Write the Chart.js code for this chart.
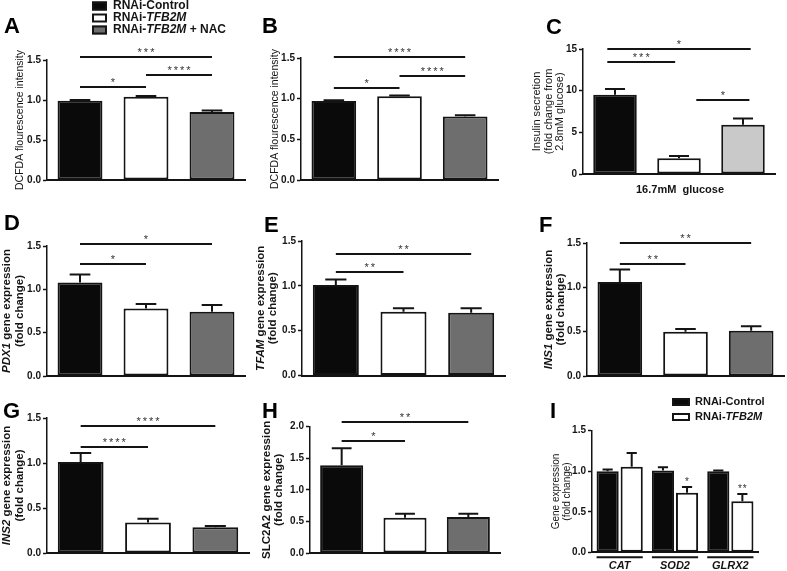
<!DOCTYPE html>
<html><head><meta charset="utf-8">
<script src="https://cdn.jsdelivr.net/npm/chart.js@4.4.0/dist/chart.umd.min.js"></script>
<style>
html,body{margin:0;padding:0;background:#fff;}
#wrap{position:relative;width:787px;height:571px;overflow:hidden;background:#fff;}
canvas{position:absolute;}
</style></head><body><div id="wrap"></div>
<script>
// ---------------- data ----------------
const groups = ['RNAi-Control', 'RNAi-TFB2M', 'RNAi-TFB2M + NAC'];
const groupsI = ['RNAi-Control', 'RNAi-TFB2M'];
const genesI = ['CAT', 'SOD2', 'GLRX2'];

const ticksFold = [0, 0.5, 1.0, 1.5];
const ticksInsulin = [0, 5, 10, 15];
const ticksSLC = [0, 0.5, 1.0, 1.5, 2.0];

// A: DCFDA
const A_mean = [0.99, 1.04, 0.85];
const A_sem  = [0.01, 0.01, 0.02];
const A_sig  = [[0, 2, 1.54, '***'], [1, 2, 1.31, '****'], [0, 1, 1.16, '*']];
// B: DCFDA
const B_mean = [0.97, 1.03, 0.78];
const B_sem  = [0.01, 0.01, 0.015];
const B_sig  = [[0, 2, 1.51, '****'], [1, 2, 1.28, '****'], [0, 1, 1.13, '*']];
// C: insulin secretion
const C_mean = [9.5, 1.9, 5.9];
const C_sem  = [0.7, 0.25, 0.75];
const C_sig  = [[-0.12, 2.12, 15.0, '*'], [-0.12, 0.94, 13.4, '***'], [1.27, 2.1, 8.9, '*']];
// D: PDX1
const D_mean = [1.08, 0.78, 0.74];
const D_sem  = [0.09, 0.05, 0.08];
const D_sig  = [[0, 2, 1.52, '*'], [0, 1, 1.29, '*']];
// E: TFAM
const E_mean = [1.01, 0.71, 0.70];
const E_sem  = [0.06, 0.04, 0.05];
const E_sig  = [[0, 2, 1.36, '**'], [0, 1, 1.15, '**']];
// F: INS1
const F_mean = [1.06, 0.50, 0.51];
const F_sem  = [0.14, 0.03, 0.05];
const F_sig  = [[0, 2, 1.50, '**'], [0, 1, 1.26, '**']];
// G: INS2
const G_mean = [1.01, 0.34, 0.285];
const G_sem  = [0.10, 0.04, 0.015];
const G_sig  = [[0, 2, 1.41, '****'], [0, 1, 1.18, '****']];
// H: SLC2A2
const H_mean = [1.39, 0.56, 0.57];
const H_sem  = [0.27, 0.06, 0.05];
const H_sig  = [[0, 2, 2.08, '**'], [0, 1, 1.77, '*']];
// I: antioxidant genes
const I_ctrl_mean = [1.00, 1.01, 1.00];
const I_ctrl_sem  = [0.02, 0.04, 0.01];
const I_tfb_mean  = [1.055, 0.735, 0.63];
const I_tfb_sem   = [0.17, 0.07, 0.09];
const I_stars     = ['', '*', '**'];

// ---------------- drawing ----------------
const FONT = "'Liberation Sans', Arial, Helvetica, sans-serif";
const INK = '#141414';
const COLORS3 = ['#0a0a0a', '#ffffff', '#6e6e6e'];
const COLORS3C = ['#0a0a0a', '#ffffff', '#c9c9c9'];
const wrap = document.getElementById('wrap');

function richify(s) {
  const parts = s.split(/(TFB2M)/).filter(t => t.length);
  return parts.map(t => [t, t === 'TFB2M']);
}
function font(size, weight, italic) {
  return (italic ? 'italic ' : '') + (weight || 'normal') + ' ' + size + 'px ' + FONT;
}
function drawRich(ctx, segs, x, y, size, weight, align) {
  let total = 0;
  segs.forEach(s => { ctx.font = font(size, weight, s[1]); total += ctx.measureText(s[0]).width; });
  let cx = align === 'left' ? x : x - total / 2;
  ctx.textAlign = 'left';
  segs.forEach(s => { ctx.font = font(size, weight, s[1]); ctx.fillText(s[0], cx, y); cx += ctx.measureText(s[0]).width; });
}

function makePanel(p) {
  const cv = document.createElement('canvas');
  cv.width = p.cell.w; cv.height = p.cell.h;
  cv.style.left = p.cell.x + 'px'; cv.style.top = p.cell.y + 'px';
  cv.style.width = p.cell.w + 'px'; cv.style.height = p.cell.h + 'px';
  wrap.appendChild(cv);
  const YW = 40;
  const pad = {
    left: p.plot.l - p.cell.x - YW,
    top: p.plot.t - p.cell.y,
    right: p.cell.x + p.cell.w - p.plot.r,
    bottom: p.cell.y + p.cell.h - p.plot.b
  };
  const deco = {
    id: 'deco',
    afterDatasetsDraw(chart) {
      const ctx = chart.ctx, ys = chart.scales.y;
      ctx.save(); ctx.strokeStyle = INK; ctx.lineWidth = 2;
      p.datasets.forEach((ds, di) => {
        const meta = chart.getDatasetMeta(di);
        meta.data.forEach((bar, i) => {
          const e = p.err[di][i]; if (!e) return;
          const top = ys.getPixelForValue(ds.data[i] + e);
          const hw = bar.width * 0.23;
          ctx.beginPath();
          ctx.moveTo(bar.x, bar.y); ctx.lineTo(bar.x, top);
          ctx.moveTo(bar.x - hw, top); ctx.lineTo(bar.x + hw, top);
          ctx.stroke();
        });
      });
      ctx.restore();
    },
    afterDraw(chart) {
      const ctx = chart.ctx, xs = chart.scales.x, ys = chart.scales.y;
      ctx.save();
      // significance brackets
      (p.sig || []).forEach(s => {
        const x1 = xs.getPixelForValue(s[0]), x2 = xs.getPixelForValue(s[1]);
        const y = Math.round(ys.getPixelForValue(s[2]));
        ctx.strokeStyle = INK; ctx.lineWidth = 2;
        ctx.beginPath(); ctx.moveTo(x1, y); ctx.lineTo(x2, y); ctx.stroke();
        ctx.fillStyle = '#333'; ctx.font = font(11, 'normal');
        ctx.letterSpacing = '2px';
        ctx.textAlign = 'center'; ctx.textBaseline = 'alphabetic';
        ctx.fillText(s[3], (x1 + x2) / 2 + 1, y - 1.5);
        ctx.letterSpacing = '0px';
      });
      if (p.extraChart) p.extraChart(chart, ctx);
      // page-coordinate decorations
      ctx.translate(-p.cell.x, -p.cell.y);
      ctx.fillStyle = '#000';
      ctx.textBaseline = 'alphabetic'; ctx.textAlign = 'left';
      ctx.font = font(22, 'bold');
      ctx.fillText(p.letter[0], p.letter[1], p.letter[2]);
      // y title
      const yt = p.ytitle;
      const cy = (p.plot.t + p.plot.b) / 2;
      ctx.fillStyle = INK; ctx.textBaseline = 'middle';
      yt.lines.forEach((segs, li) => {
        ctx.save();
        ctx.translate(yt.xs[li], cy);
        ctx.rotate(-Math.PI / 2);
        drawRich(ctx, segs, 0, 0, yt.size, yt.weight, 'center');
        ctx.restore();
      });
      if (p.extraPage) p.extraPage(ctx);
      ctx.restore();
    }
  };
  return new Chart(cv, {
    type: 'bar',
    data: { labels: p.labels, datasets: p.datasets },
    options: {
      responsive: false, animation: false, devicePixelRatio: 1, events: [],
      layout: { padding: pad },
      plugins: { legend: { display: false }, tooltip: { enabled: false }, title: { display: false } },
      scales: {
        x: {
          offset: true,
          grid: { display: false },
          ticks: { display: false },
          border: { display: true, color: INK, width: 2 },
          afterFit(s) { s.height = 0; }
        },
        y: {
          min: 0, max: p.ticks[p.ticks.length - 1],
          afterBuildTicks(s) { s.ticks = p.ticks.map(v => ({ value: v })); },
          grid: { display: true, drawOnChartArea: false, drawTicks: true, tickLength: 4, tickWidth: 1.5, tickColor: INK, color: INK },
          border: { display: true, color: INK, width: 1.5 },
          ticks: { color: INK, padding: 2, font: { family: FONT, size: 10, weight: 'bold' },
                   callback: (v) => Number(v).toFixed(p.dec) },
          afterFit(s) { s.width = YW; }
        }
      }
    },
    plugins: [deco]
  });
}

function ds3(mean, colors) {
  return [{ data: mean, backgroundColor: colors, borderColor: INK, borderWidth: 2, borderSkipped: false,
            categoryPercentage: 1, barPercentage: 0.68 }];
}
const gene2 = (g) => [[[g, true], [' gene expression', false]], [['(fold change)', false]]];

// A
makePanel({
  name: 'A', cell: { x: 0, y: 0, w: 255, h: 192 }, plot: { l: 47, t: 60, r: 245, b: 180 },
  labels: groups, datasets: ds3(A_mean, COLORS3), err: [A_sem], sig: A_sig, ticks: ticksFold, dec: 1,
  letter: ['A', 4, 33],
  ytitle: { lines: [[['DCFDA flourescence intensity', false]]], xs: [20], size: 10.5, weight: 'normal' },
  extraPage(ctx) {
    const rows = [6, 18, 30];
    groups.forEach((g, i) => {
      ctx.fillStyle = COLORS3[i]; ctx.fillRect(92, rows[i] - 4.5, 15, 9);
      ctx.strokeStyle = INK; ctx.lineWidth = 2; ctx.strokeRect(93, rows[i] - 3.5, 13, 7);
      ctx.fillStyle = INK; ctx.textBaseline = 'middle';
      drawRich(ctx, richify(g), 113, rows[i], 12, 'bold', 'left');
    });
  }
});
// B
makePanel({
  name: 'B', cell: { x: 255, y: 0, w: 265, h: 192 }, plot: { l: 301, t: 58, r: 498, b: 180 },
  labels: groups, datasets: ds3(B_mean, COLORS3), err: [B_sem], sig: B_sig, ticks: ticksFold, dec: 1,
  letter: ['B', 262, 33],
  ytitle: { lines: [[['DCFDA flourescence intensity', false]]], xs: [275], size: 10.5, weight: 'normal' }
});
// C
makePanel({
  name: 'C', cell: { x: 520, y: 0, w: 267, h: 200 }, plot: { l: 583, t: 49, r: 775, b: 174 },
  labels: groups, datasets: ds3(C_mean, COLORS3C), err: [C_sem], sig: C_sig, ticks: ticksInsulin, dec: 0,
  letter: ['C', 546, 34],
  ytitle: { lines: [[['Insulin secretion', false]], [['(fold change from', false]], [['2.8mM glucose)', false]]],
            xs: [537, 549, 560], size: 11, weight: 'normal' },
  extraPage(ctx) {
    ctx.fillStyle = INK; ctx.textBaseline = 'middle';
    drawRich(ctx, [['16.7mM  glucose', false]], 680, 190, 11, 'bold', 'center');
  }
});
// D
makePanel({
  name: 'D', cell: { x: 0, y: 195, w: 255, h: 190 }, plot: { l: 47, t: 246, r: 245, b: 376 },
  labels: groups, datasets: ds3(D_mean, COLORS3), err: [D_sem], sig: D_sig, ticks: ticksFold, dec: 1,
  letter: ['D', 4, 230],
  ytitle: { lines: gene2('PDX1'), xs: [7, 20], size: 11.5, weight: 'bold' }
});
// E
makePanel({
  name: 'E', cell: { x: 250, y: 195, w: 270, h: 190 }, plot: { l: 302, t: 241, r: 505, b: 375.5 },
  labels: groups, datasets: ds3(E_mean, COLORS3), err: [E_sem], sig: E_sig, ticks: ticksFold, dec: 1,
  letter: ['E', 264, 232],
  ytitle: { lines: gene2('TFAM'), xs: [261, 273], size: 11.5, weight: 'bold' }
});
// F
makePanel({
  name: 'F', cell: { x: 520, y: 195, w: 267, h: 190 }, plot: { l: 587, t: 243, r: 784, b: 376 },
  labels: groups, datasets: ds3(F_mean, COLORS3), err: [F_sem], sig: F_sig, ticks: ticksFold, dec: 1,
  letter: ['F', 539, 232],
  ytitle: { lines: gene2('INS1'), xs: [549, 561], size: 11.5, weight: 'bold' }
});
// G
makePanel({
  name: 'G', cell: { x: 0, y: 385, w: 255, h: 186 }, plot: { l: 47, t: 418, r: 249, b: 553 },
  labels: groups, datasets: ds3(G_mean, COLORS3), err: [G_sem], sig: G_sig, ticks: ticksFold, dec: 1,
  letter: ['G', 3, 418],
  ytitle: { lines: gene2('INS2'), xs: [7, 20], size: 11.5, weight: 'bold' }
});
// H
makePanel({
  name: 'H', cell: { x: 250, y: 385, w: 270, h: 186 }, plot: { l: 310, t: 426.7, r: 500, b: 553 },
  labels: groups, datasets: ds3(H_mean, COLORS3), err: [H_sem], sig: H_sig, ticks: ticksSLC, dec: 1,
  letter: ['H', 262, 418],
  ytitle: { lines: [[['SLC2A2 gene expression', false]], [['(fold change)', false]]], xs: [267, 279], size: 11.5, weight: 'bold' }
});
// I
makePanel({
  name: 'I', cell: { x: 520, y: 385, w: 267, h: 186 }, plot: { l: 592, t: 430.7, r: 758, b: 552.3 },
  labels: genesI,
  datasets: [
    { data: I_ctrl_mean, backgroundColor: COLORS3[0], borderColor: INK, borderWidth: 2, borderSkipped: false, categoryPercentage: 0.87, barPercentage: 0.92 },
    { data: I_tfb_mean, backgroundColor: COLORS3[1], borderColor: INK, borderWidth: 2, borderSkipped: false, categoryPercentage: 0.87, barPercentage: 0.92 }
  ],
  err: [I_ctrl_sem, I_tfb_sem], sig: [], ticks: ticksFold, dec: 1,
  letter: ['I', 550, 418],
  ytitle: { lines: [[['Gene expression', false]], [['(fold change)', false]]], xs: [556, 567], size: 10, weight: 'normal' },
  extraChart(chart, ctx) {
    const ys = chart.scales.y;
    const m0 = chart.getDatasetMeta(0), m1 = chart.getDatasetMeta(1);
    genesI.forEach((g, i) => {
      const b0 = m0.data[i], b1 = m1.data[i];
      const xl = b0.x - b0.width / 2, xr = b1.x + b1.width / 2;
      const yl = chart.chartArea.bottom + 5;
      ctx.strokeStyle = INK; ctx.lineWidth = 2;
      ctx.beginPath(); ctx.moveTo(xl, yl); ctx.lineTo(xr, yl); ctx.stroke();
      ctx.fillStyle = INK; ctx.textBaseline = 'middle';
      drawRich(ctx, [[g, true]], (xl + xr) / 2, yl + 9, 11, 'bold', 'center');
      if (I_stars[i]) {
        const yt = ys.getPixelForValue(I_tfb_mean[i] + I_tfb_sem[i]);
        ctx.fillStyle = '#333'; ctx.font = font(10, 'normal'); ctx.textAlign = 'center'; ctx.textBaseline = 'alphabetic';
        ctx.letterSpacing = '1px';
        ctx.fillText(I_stars[i], b1.x + 0.5, yt - 2);
        ctx.letterSpacing = '0px';
      }
    });
  },
  extraPage(ctx) {
    const rows = [402, 417];
    groupsI.forEach((g, i) => {
      ctx.fillStyle = COLORS3[i]; ctx.fillRect(672, rows[i] - 4, 18, 8);
      ctx.strokeStyle = INK; ctx.lineWidth = 2; ctx.strokeRect(673, rows[i] - 3, 16, 6);
      ctx.fillStyle = INK; ctx.textBaseline = 'middle';
      drawRich(ctx, richify(g), 695, rows[i], 11, 'bold', 'left');
    });
  }
});
</script></body></html>
